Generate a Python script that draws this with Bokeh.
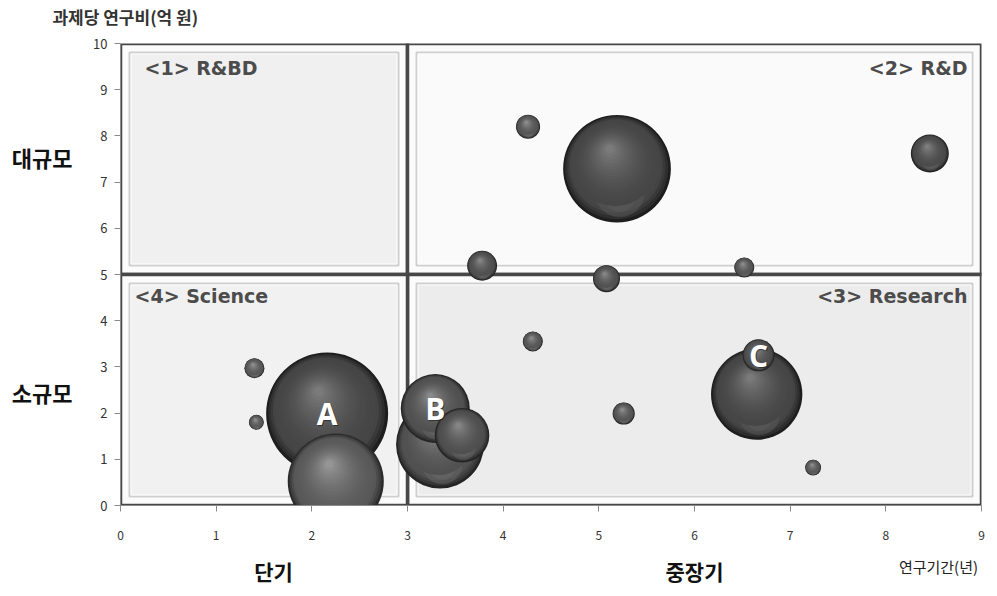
import numpy as np
from bokeh.plotting import figure
from bokeh.models import ColumnDataSource, Label, FixedTicker, Range1d, LinearAxis
from bokeh.core.properties import value
from bokeh.embed import file_html
from bokeh.resources import INLINE

# ---------------- data ----------------
duration = [4.26, 5.19, 8.46, 3.78, 5.08, 6.52, 4.31, 5.26, 7.24, 1.40, 1.42,
            2.16, 2.25, 3.34, 3.29, 3.57, 6.65, 6.67]          # 연구기간(년)
budget = [8.20, 7.29, 7.62, 5.19, 4.91, 5.15, 3.55, 1.99, 0.82, 2.97, 1.80,
          1.99, 0.52, 1.32, 2.10, 1.52, 2.41, 3.25]            # 과제당 연구비(억 원)
bubble = [3.9, 78.0, 9.7, 6.0, 4.9, 2.7, 2.7, 3.3, 1.7, 2.7, 1.5,
          100.0, 62.0, 52.0, 32.0, 20.0, 56.0, 6.9]             # bubble value
tags = ["", "", "", "", "", "", "", "", "", "", "",
        "A", "", "", "B", "", "", "C"]

quad_names = ["<1> R&BD", "<2> R&D", "<3> Research", "<4> Science"]
quad_x0 = [0, 3, 3, 0]
quad_x1 = [3, 9, 9, 3]
quad_y0 = [5, 5, 0, 0]
quad_y1 = [10, 10, 5, 5]

x_ticks = list(range(0, 10))
y_ticks = list(range(0, 11))

y_title = "과제당 연구비(억 원)"
x_title = "연구기간(년)"
size_groups = {7.55: "대규모", 2.45: "소규모"}
term_groups = {1.6: "단기", 6.0: "중장기"}

# ---------------- styles ----------------
quad_fill = ["#f0f0f0", "#fafafa", "#ececec", "#f1f1f1"]
bubble_tone = [14, 0, 4, 8, 10, 14, 14, 14, 16, 16, 16,
               0, 18, 10, 10, 8, 0, 8]                         # brightness lift

# ---------------- figure ----------------
FW, FH = 861, 462
XMAX, YMAX = 9, 10
pxx = FW / XMAX
pxy = FH / YMAX

p = figure(frame_width=FW, frame_height=FH, output_backend="svg",
           toolbar_location=None, x_range=Range1d(0, XMAX), y_range=Range1d(0, YMAX),
           min_border_left=120, min_border_right=7, min_border_top=42,
           min_border_bottom=83)
p.outline_line_color = None
p.xgrid.visible = False
p.ygrid.visible = False
p.background_fill_color = "white"
p.border_fill_color = "white"

kfont = "Noto Sans CJK KR"

# main axes
for ax in (p.xaxis, p.yaxis):
    ax.major_label_text_font = kfont
    ax.major_label_text_font_size = "12px"
    ax.major_label_text_color = "#333333"
    ax.minor_tick_line_color = None
    ax.major_tick_line_color = "#8a8a8a"
    ax.axis_line_color = "#8a8a8a"
    ax.major_tick_in = 0
    ax.major_tick_out = 6
p.yaxis.major_label_text_font_size = "13px"
p.xaxis.ticker = FixedTicker(ticks=x_ticks)
p.yaxis.ticker = FixedTicker(ticks=y_ticks)
p.xaxis.major_label_standoff = 19
p.yaxis.major_label_standoff = 7


def text_axis(ticks_map, standoff, size, bold=True, color="#111111"):
    ax = LinearAxis(ticker=FixedTicker(ticks=list(ticks_map.keys())),
                    major_label_overrides=ticks_map)
    ax.axis_line_color = None
    ax.major_tick_line_color = None
    ax.minor_tick_line_color = None
    ax.major_tick_out = 0
    ax.major_tick_in = 0
    ax.major_label_standoff = standoff
    ax.major_label_text_font = kfont
    ax.major_label_text_font_size = size
    ax.major_label_text_font_style = "bold" if bold else "normal"
    ax.major_label_text_color = color
    return ax


# left group labels
p.add_layout(text_axis(size_groups, 18, "22px"), "left")
# top title (y axis title)
p.add_layout(text_axis({0.05: y_title}, 15, "17px", color="#333333"), "above")
# bottom: x title then period groups
p.add_layout(text_axis({8.55: x_title}, 13, "15px", bold=False, color="#222222"), "below")
p.add_layout(text_axis(term_groups, -24, "21px"), "below")

# ---------------- quadrant panels ----------------
ix, iy = 9 / pxx, 9 / pxy
qsrc = ColumnDataSource(dict(
    x0=quad_x0, x1=quad_x1, y0=quad_y0, y1=quad_y1, fill=quad_fill,
    ix0=[v + ix for v in quad_x0], ix1=[v - ix for v in quad_x1],
    iy0=[v + iy for v in quad_y0], iy1=[v - iy for v in quad_y1],
    wx0=[v + ix + 1.5 / pxx for v in quad_x0], wx1=[v - ix - 1.5 / pxx for v in quad_x1],
    wy0=[v + iy + 1.5 / pxy for v in quad_y0], wy1=[v - iy - 1.5 / pxy for v in quad_y1],
))
p.quad(left="x0", right="x1", bottom="y0", top="y1", source=qsrc,
       fill_color="#fbfbfb", line_color="#474747", line_width=3.5)
p.quad(left="ix0", right="ix1", bottom="iy0", top="iy1", source=qsrc,
       fill_color="fill", line_color="#cfcfcf", line_width=2)
p.quad(left="wx0", right="wx1", bottom="wy0", top="wy1", source=qsrc,
       fill_color=None, line_color="white", line_width=1, line_alpha=0.9)

# quadrant titles
qfont = dict(text_font="DejaVu Sans", text_font_style="bold",
             text_font_size="19px", text_color="#4c4c4c", text_baseline="top")
p.add_layout(Label(x=quad_x0[0], y=quad_y1[0], x_offset=24, y_offset=-13,
                   text=quad_names[0], text_align="left", **qfont))
p.add_layout(Label(x=quad_x1[1], y=quad_y1[1], x_offset=-14, y_offset=-13,
                   text=quad_names[1], text_align="right", **qfont))
p.add_layout(Label(x=quad_x1[2], y=quad_y1[2], x_offset=-14, y_offset=-10,
                   text=quad_names[2], text_align="right", **qfont))
p.add_layout(Label(x=quad_x0[3], y=quad_y1[3], x_offset=14, y_offset=-10,
                   text=quad_names[3], text_align="left", **qfont))

# ---------------- spheres ----------------
K = 6.1  # px radius per sqrt(value)


def shade(t):
    if t < 0.15:
        return 36 + (70 - 36) * (t / 0.15)
    return 70 + (122 - 70) * ((t - 0.15) / 0.85) ** 1.8


n = 22
layers = [(1.0, 0.0, 0.0, 30, 1.0)]
for i in range(1, n):
    t = i / (n - 1)
    layers.append((1 - 0.92 * t, -0.14 * t, 0.36 * t, shade(t), 1.0))
    if i == 4:
        layers.append((0.46, 0.05, -0.44, 92, 0.45))
        layers.append((0.30, 0.05, -0.50, 98, 0.35))

sx, sy, ss, sc, sa = [], [], [], [], []
for xv, yv, bv, tone in zip(duration, budget, bubble, bubble_tone):
    r = K * np.sqrt(bv)
    for f, dx, dy, c, al in layers:
        cc = int(min(255, c + tone * (0.5 + c / 120)))
        sx.append(xv + dx * r / pxx)
        sy.append(yv + dy * r / pxy)
        ss.append(2 * r * f)
        sc.append("#%02x%02x%02x" % (cc, cc, cc))
        sa.append(al)
ssrc = ColumnDataSource(dict(x=sx, y=sy, size=ss, color=sc, alpha=sa))
p.scatter(x="x", y="y", size="size", fill_color="color", fill_alpha="alpha",
          line_color=None, source=ssrc)

# letters A, B, C
tsrc = ColumnDataSource(dict(x=duration, y=budget, t=tags))
p.text(x="x", y="y", text="t", source=tsrc, text_font=value("Open Sans"),
       text_font_style="bold", text_font_size=value("30px"), text_color="#1a1a1a",
       text_alpha=0.6, text_align="center", text_baseline="middle",
       x_offset=1, y_offset=1)
p.text(x="x", y="y", text="t", source=tsrc, text_font=value("Open Sans"),
       text_font_style="bold", text_font_size=value("30px"), text_color="white",
       text_align="center", text_baseline="middle")

open("out.html", "w").write(file_html(p, INLINE))
